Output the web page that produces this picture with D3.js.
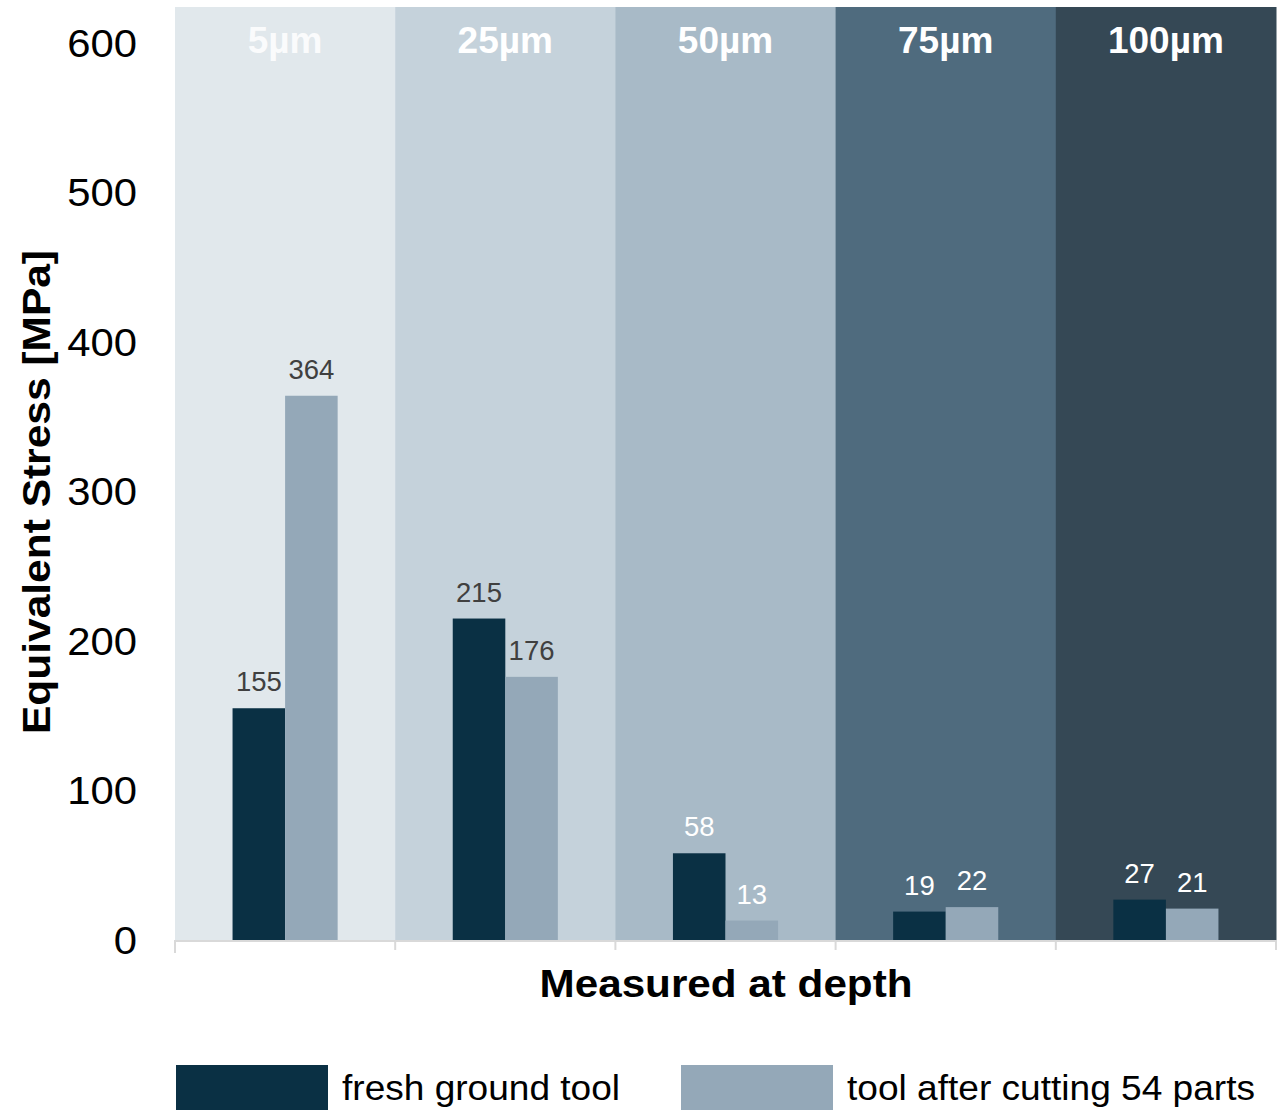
<!DOCTYPE html>
<html>
<head>
<meta charset="utf-8">
<script src="https://cdn.jsdelivr.net/npm/d3@7"></script>
<style>
  html, body { margin: 0; padding: 0; background: #fff; }
  svg { display: block; }
  text { font-family: Arial, "Liberation Sans", sans-serif; }
</style>
</head>
<body>
<svg id="chart" width="1281" height="1110"></svg>
<script>
// Depth categories and their band shading
const depths = ["5µm", "25µm", "50µm", "75µm", "100µm"];
const bandColors = ["#E1E8EC", "#C5D2DB", "#A8BAC7", "#4F6B7E", "#354855"];
const labelColors = ["#404040", "#404040", "#ffffff", "#ffffff", "#ffffff"];

// Equivalent stress [MPa] per series
const seriesNames = ["fresh ground tool", "tool after cutting 54 parts"];
const freshTool = [155, 215, 58, 19, 27];
const wornTool = [364, 176, 13, 22, 21];
const seriesColors = ["#0A3044", "#94A8B8"];

const yTicks = [0, 100, 200, 300, 400, 500, 600];

const svg = d3.select("#chart");
const plot = { left: 175, right: 1276, top: 7, bottom: 940 };

const x = d3.scaleBand().domain(depths).range([plot.left, plot.right]).padding(0);
const y = d3.scaleLinear().domain([0, 624]).range([plot.bottom, plot.top]);
const inner = d3.scaleBand().domain([0, 1])
  .range([0, x.bandwidth()]).paddingInner(0).paddingOuter(1.095);

// background bands
svg.append("g").selectAll("rect").data(depths).join("rect")
  .attr("x", d => x(d))
  .attr("y", plot.top)
  .attr("width", x.bandwidth() + 0.5)
  .attr("height", plot.bottom - plot.top)
  .attr("fill", (d, i) => bandColors[i]);

// band headers
svg.append("g").selectAll("text").data(depths).join("text")
  .attr("x", d => x(d) + x.bandwidth() / 2)
  .attr("y", 53)
  .attr("text-anchor", "middle")
  .attr("font-size", 37)
  .attr("font-weight", "bold")
  .attr("fill", "#ffffff")
  .attr("opacity", (d, i) => i === 0 ? 0.85 : 1)
  .text(d => d);

// bars
const rows = depths.map((d, i) => ({ depth: d, i, values: [freshTool[i], wornTool[i]] }));
const groups = svg.append("g").selectAll("g").data(rows).join("g")
  .attr("transform", d => `translate(${x(d.depth)},0)`);

groups.selectAll("rect").data(d => d.values.map((v, s) => ({ v, s }))).join("rect")
  .attr("x", d => inner(d.s))
  .attr("y", d => y(d.v))
  .attr("width", inner.bandwidth())
  .attr("height", d => y(0) - y(d.v))
  .attr("fill", d => seriesColors[d.s]);

// value labels
groups.selectAll("text").data(d => d.values.map((v, s) => ({ v, s, i: d.i }))).join("text")
  .attr("x", d => inner(d.s) + inner.bandwidth() / 2)
  .attr("y", d => y(d.v) - 17)
  .attr("text-anchor", "middle")
  .attr("font-size", 27.5)
  .attr("fill", d => labelColors[d.i])
  .text(d => d.v);

// x axis line and category dividers
const xAxis = svg.append("g");
xAxis.append("line")
  .attr("x1", plot.left).attr("x2", plot.right)
  .attr("y1", plot.bottom + 1).attr("y2", plot.bottom + 1)
  .attr("stroke", "#D9D9D9").attr("stroke-width", 2);
const dividers = depths.map(d => x(d)).concat([x.range()[1]]);
xAxis.selectAll("line.tick").data(dividers).join("line")
  .attr("class", "tick")
  .attr("x1", d => d).attr("x2", d => d)
  .attr("y1", plot.bottom).attr("y2", (d, i) => i === 0 ? 953 : 950)
  .attr("stroke", "#D9D9D9").attr("stroke-width", 2);

// y tick labels
svg.append("g").selectAll("text").data(yTicks).join("text")
  .attr("x", 0).attr("y", 0)
  .attr("transform", d => `translate(137,${y(d) + 14}) scale(1.1,1)`)
  .attr("text-anchor", "end")
  .attr("font-size", 38)
  .attr("fill", "#000")
  .text(d => d);

// axis titles
svg.append("text")
  .attr("transform", "translate(50,492) rotate(-90)")
  .attr("text-anchor", "middle")
  .attr("font-size", 38)
  .attr("font-weight", "bold")
  .attr("textLength", 484)
  .attr("lengthAdjust", "spacingAndGlyphs")
  .text("Equivalent Stress [MPa]");

svg.append("text")
  .attr("x", 726).attr("y", 997)
  .attr("text-anchor", "middle")
  .attr("font-size", 38)
  .attr("font-weight", "bold")
  .attr("textLength", 373)
  .attr("lengthAdjust", "spacingAndGlyphs")
  .text("Measured at depth");

// legend
const legendX = [176, 681];
const legendTextW = [278, 408];
const legend = svg.append("g").selectAll("g").data(seriesNames).join("g")
  .attr("transform", (d, i) => `translate(${legendX[i]},1065)`);
legend.append("rect")
  .attr("width", 152).attr("height", 45)
  .attr("fill", (d, i) => seriesColors[i]);
legend.append("text")
  .attr("x", 166).attr("y", 35)
  .attr("font-size", 35)
  .attr("textLength", (d, i) => legendTextW[i])
  .attr("lengthAdjust", "spacingAndGlyphs")
  .text(d => d);
</script>
</body>
</html>
